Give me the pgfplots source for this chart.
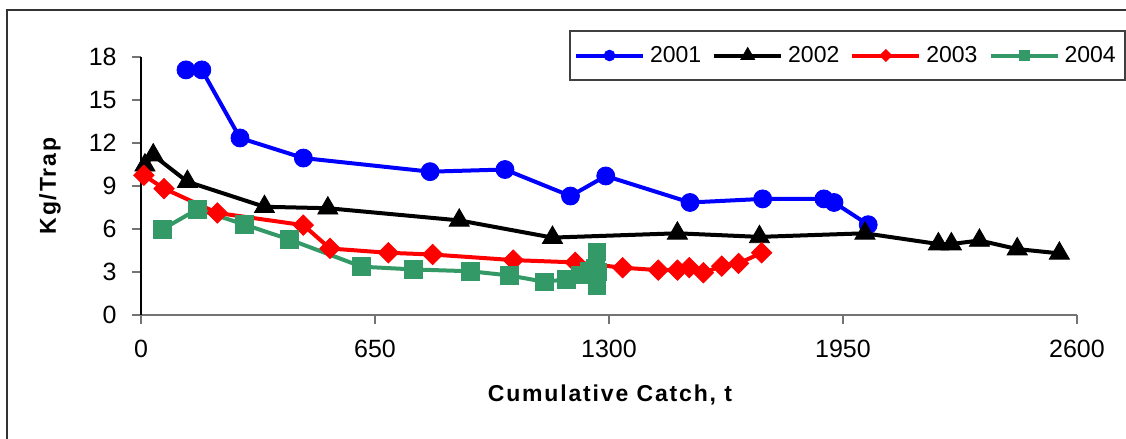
\documentclass[border=0pt]{standalone}
\usepackage{pgfplots}
\pgfplotsset{compat=1.18}
\usepackage{fontspec}
\setmainfont{Liberation Sans}
\newfontfamily\labfont[LetterSpace=8]{Liberation Sans}
\definecolor{sgreen}{RGB}{51,153,102}

\begin{document}
\begin{tikzpicture}
\useasboundingbox (-70.5pt,-62pt) rectangle (492.5pt,157.5pt);
\draw[line width=1pt, black!80] (-67pt,-80pt) -- (-67pt,152.5pt) -- (510pt,152.5pt);
\begin{axis}[
  at={(0pt,0pt)}, anchor=south west,
  scale only axis, width=468pt, height=129pt,
  xmin=0, xmax=2600, ymin=0, ymax=18,
  xtick={0,650,1300,1950,2600}, ytick={0,3,6,9,12,15,18},
  axis x line*=bottom, axis y line*=left,
  x axis line style={black!55, line width=1pt},
  y axis line style={black, line width=1pt},
  tick align=outside, major tick length=4.5pt,
  xtick style={black!55, line width=0.8pt},
  ytick style={black!55, line width=0.8pt},
  /pgf/number format/assume math mode=true,
  /pgf/number format/1000 sep={},
  tick label style={font=\fontsize{12.5}{15}\selectfont},
  xticklabel style={anchor=center, yshift=-12.5pt},
  yticklabel style={anchor=east, inner sep=0pt, xshift=-7.5pt},
  xlabel={\labfont\bfseries Cumulative Catch, t},
  ylabel={\labfont\bfseries Kg/Trap},
  xlabel style={at={(axis description cs:0.501,-0.31)}, anchor=center, font=\fontsize{11.5}{13.8}\selectfont},
  ylabel style={at={(axis description cs:-0.0972,0.5)}, anchor=center, rotate=0, font=\fontsize{11.5}{13.8}\selectfont},
  clip=false,
  legend image code/.code={\draw[mark repeat=2,mark phase=2,#1] plot coordinates {(0pt,0pt)(16.75pt,0pt)(33.5pt,0pt)};},
  legend columns=4,
  legend style={at={(axis description cs:0.4573,1.1047)}, anchor=north west,
    draw=black!75, line width=1pt, fill=white,
    font=\fontsize{11.5}{13.8}\selectfont,
    inner xsep=2pt, inner ysep=4.5pt,
    nodes={inner xsep=2.5pt, inner ysep=3pt},
    /tikz/every even column/.append style={column sep=3pt}},
]
\addplot[blue, line width=2pt, mark=*, mark size=4.5pt, mark options={solid, line width=0.4pt}, forget plot] coordinates {
 (125,17.1) (169,17.1) (275,12.35) (451,10.95) (803,10.0) (1011,10.15) (1193,8.3) (1291,9.7) (1525,7.85) (1727,8.1) (1897,8.1) (1925,7.85) (2020,6.3)
};
\addplot[black, line width=2pt, mark=triangle*, mark size=5.8pt, mark options={solid, line width=0.4pt}, forget plot] coordinates {
 (11,10.45) (34,11.15) (129,9.3) (343,7.55) (519,7.45) (884,6.6) (1143,5.4) (1490,5.7) (1718,5.45) (2011,5.7) (2215,4.95) (2251,4.95) (2329,5.2) (2434,4.6) (2551,4.3)
};
\addplot[red, line width=2pt, mark=square*, mark size=3.6pt, mark options={solid, rotate=45, line width=0.4pt}, forget plot] coordinates {
 (8,9.75) (64,8.82) (212,7.12) (451,6.27) (525,4.64) (687,4.34) (810,4.22) (1034,3.83) (1206,3.67) (1338,3.3) (1437,3.13) (1490,3.13) (1523,3.3) (1562,2.95) (1613,3.41) (1660,3.6) (1724,4.34)
};
\addplot[sgreen, line width=2pt, mark=square*, mark size=4.4pt, mark options={solid, line width=0.4pt}, forget plot] coordinates {
 (59,5.97) (157,7.38) (287,6.31) (412,5.27) (613,3.37) (756,3.18) (915,3.05) (1023,2.76) (1120,2.32) (1181,2.48) (1220,2.8) (1245,3.05) (1262,3.3) (1266,4.4) (1266,2.05) (1268,3.0)
};
\addlegendimage{blue, line width=2pt, mark=*, mark size=2.7pt, mark options={solid, line width=0.4pt}}
\addlegendentry{2001}
\addlegendimage{black, line width=2pt, mark=triangle*, mark size=4pt, mark options={solid, line width=0.4pt}}
\addlegendentry{2002}
\addlegendimage{red, line width=2pt, mark=square*, mark size=2.1pt, mark options={solid, rotate=45, line width=0.4pt}}
\addlegendentry{2003}
\addlegendimage{sgreen, line width=2pt, mark=square*, mark size=2.5pt, mark options={solid, line width=0.4pt}}
\addlegendentry{2004}
\end{axis}
\end{tikzpicture}
\end{document}
